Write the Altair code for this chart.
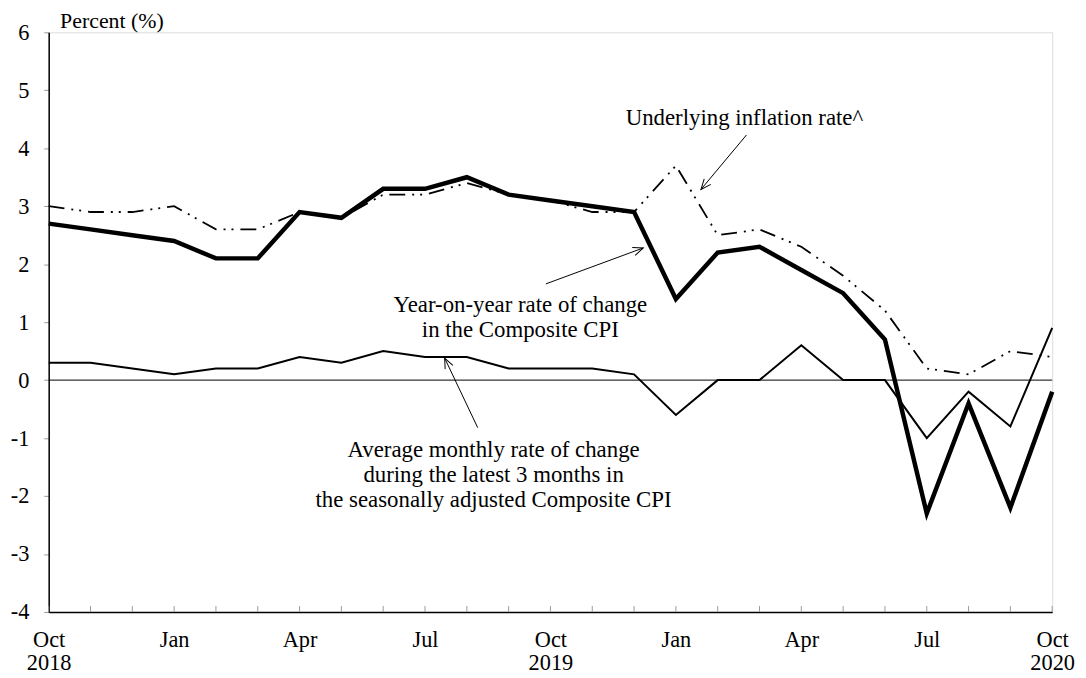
import json
import math
import altair as alt
import pandas as pd

# ---------------- data ----------------
months = list(range(25))  # Oct 2018 ... Oct 2020
tick_labels = [["Oct", "2018"], [""], [""], ["Jan"], [""], [""], ["Apr"], [""], [""],
               ["Jul"], [""], [""], ["Oct", "2019"], [""], [""], ["Jan"], [""], [""],
               ["Apr"], [""], [""], ["Jul"], [""], [""], ["Oct", "2020"]]
yoy = [2.7, 2.6, 2.5, 2.4, 2.1, 2.1, 2.9, 2.8, 3.3, 3.3, 3.5, 3.2, 3.1, 3.0, 2.9,
       1.4, 2.2, 2.3, 1.9, 1.5, 0.7, -2.3, -0.4, -2.2, -0.2]
underlying = [3.0, 2.9, 2.9, 3.0, 2.6, 2.6, 2.9, 2.8, 3.2, 3.2, 3.4, 3.2, 3.1, 2.9, 2.9,
              3.7, 2.5, 2.6, 2.3, 1.8, 1.2, 0.2, 0.1, 0.5, 0.4]
three_month = [0.3, 0.3, 0.2, 0.1, 0.2, 0.2, 0.4, 0.3, 0.5, 0.4, 0.4, 0.2, 0.2, 0.2, 0.1,
               -0.6, 0.0, 0.0, 0.6, 0.0, 0.0, -1.0, -0.2, -0.8, 0.9]
y_ticks = [-4, -3, -2, -1, 0, 1, 2, 3, 4, 5, 6]

ann_text = ["Underlying inflation rate^",
            "Year-on-year rate of change", "in the Composite CPI",
            "Average monthly rate of change", "during the latest 3 months in",
            "the seasonally adjusted Composite CPI"]
ann_x = [16.64, 11.28, 11.28, 10.64, 10.64, 10.64]
ann_y = [4.40, 1.18, 0.74, -1.32, -1.75, -2.19]

arrow_x = [16.69, 11.89, 10.26]
arrow_y = [4.23, 1.66, -0.82]
arrow_x2 = [15.60, 14.22, 9.47]
arrow_y2 = [3.29, 2.28, 0.38]

# ---------------- layout ----------------
W, H = 1011, 584
FONT = "Liberation Serif"
px_x = W / 24.0
px_y = H / 10.0

xs = alt.Scale(domain=[0, 24], nice=False, zero=False)
ys = alt.Scale(domain=[-4, 6], nice=False, zero=False)

series = pd.DataFrame({"x": months, "yoy": yoy, "und": underlying, "three": three_month})
ticks_df = pd.DataFrame({"x": months})
zero_df = pd.DataFrame({"y": [0]})
ann_df = pd.DataFrame({"x": ann_x, "y": ann_y, "t": ann_text})

angles = []
for x1, y1, x2, y2 in zip(arrow_x, arrow_y, arrow_x2, arrow_y2):
    dx = (x2 - x1) * px_x
    dy = -(y2 - y1) * px_y
    angles.append(math.degrees(math.atan2(dx, -dy)) % 360)
arrow_df = pd.DataFrame({"x": arrow_x, "y": arrow_y, "x2": arrow_x2, "y2": arrow_y2, "a": angles})

label_expr = json.dumps(tick_labels) + "[datum.value]"

x_axis = alt.Axis(values=months, ticks=False, labelExpr=label_expr, labelPadding=17,
                  labelLineHeight=23, labelFontSize=22.5, labelFont=FONT, labelColor="black",
                  domainColor="black", domainWidth=1.5, grid=False, title=None,
                  labelFlush=False, labelOverlap=False)
y_axis = alt.Axis(values=y_ticks, labelExpr="'' + datum.value", labelFontSize=22.5,
                  labelFont=FONT, labelColor="black",
                  tickColor="#999999", tickSize=5, tickWidth=1, labelPadding=15,
                  domainColor="black", domainWidth=1.5, grid=False,
                  title="Percent (%)", titleAngle=0, titleAlign="left", titleX=11, titleY=-5,
                  titleBaseline="alphabetic", titleFont=FONT, titleFontSize=22,
                  titleFontWeight="normal", titleColor="black")

base = alt.Chart(series)

line3 = base.mark_line(color="black", strokeWidth=2).encode(
    x=alt.X("x:Q", scale=xs, axis=x_axis),
    y=alt.Y("three:Q", scale=ys, axis=y_axis),
)
line_und = base.mark_line(color="black", strokeWidth=1.8, strokeDash=[16, 7, 2, 6, 2, 7]).encode(
    x=alt.X("x:Q", scale=xs), y=alt.Y("und:Q", scale=ys))
line_yoy = base.mark_line(color="black", strokeWidth=4.5).encode(
    x=alt.X("x:Q", scale=xs), y=alt.Y("yoy:Q", scale=ys))

tick_marks = alt.Chart(ticks_df).mark_rule(color="#999999", strokeWidth=1).encode(
    x=alt.X("x:Q", scale=xs), y=alt.value(H), y2=alt.value(H - 6))

zero_line = alt.Chart(zero_df).mark_rule(color="black", strokeWidth=1).encode(
    y=alt.Y("y:Q", scale=ys))

arrows = alt.Chart(arrow_df).mark_rule(color="black", strokeWidth=1).encode(
    x=alt.X("x:Q", scale=xs), y=alt.Y("y:Q", scale=ys),
    x2="x2:Q", y2="y2:Q")

heads = alt.Chart(arrow_df).mark_point(
    shape="M -0.42 1 L 0 0 L 0.42 1", filled=False, color="black", strokeWidth=1,
    size=420, opacity=1).encode(
    x=alt.X("x2:Q", scale=xs), y=alt.Y("y2:Q", scale=ys),
    angle=alt.Angle("a:Q", scale=None))

texts = alt.Chart(ann_df).mark_text(font=FONT, fontSize=23, color="black",
                                     align="center", baseline="alphabetic").encode(
    x=alt.X("x:Q", scale=xs), y=alt.Y("y:Q", scale=ys), text="t:N")

chart = alt.layer(zero_line, line3, tick_marks, line_und, line_yoy, arrows, heads, texts).properties(
    width=W, height=H,
    autosize=alt.AutoSizeParams(type="none"),
    padding={"left": 41, "top": 22, "right": 26, "bottom": 62},
).configure_view(stroke="#888888", strokeWidth=1).configure(background="white")

chart.save("out.html", embed_options={"renderer": "svg", "actions": False})
